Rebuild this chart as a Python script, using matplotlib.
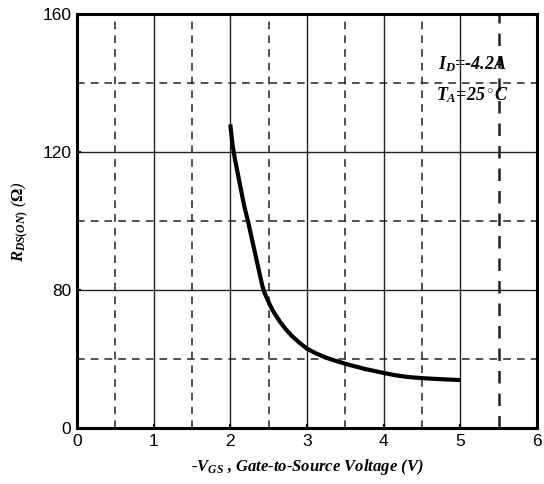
import numpy as np
import matplotlib
matplotlib.use("Agg")
import matplotlib.pyplot as plt


# Curve: -VGS (V) vs RDS(ON) (ohm).
VGS = [2.0, 2.01, 2.03, 2.06, 2.1, 2.14, 2.18, 2.23, 2.28, 2.33, 2.38, 2.42, 2.45, 2.48, 2.51, 2.55,
       2.59, 2.65, 2.72, 2.8, 2.9, 3.0, 3.12, 3.26, 3.4, 3.56, 3.75, 3.99, 4.15, 4.31, 4.5, 4.7, 5.0]
RDS = [128, 126, 122, 118, 113.5, 109, 104.5, 100, 95, 90, 85, 81, 78, 75, 72, 68.5,
       65.5, 61.5, 57.5, 53.5, 49.5, 46, 43.2, 40.6, 38.6, 36.5, 34.3, 32, 30.6, 29.6, 28.9, 28.4, 27.8]

X_TICKS = [0, 1, 2, 3, 4, 5, 6]
Y_TICKS = [0, 80, 120, 160]
X_MINOR = [0.5, 1.5, 2.5, 3.5, 4.5, 5.5]
Y_MINOR = [40, 100, 140]


# The y axis of the original is piecewise: 0-80 takes the same height as 80-120.
def forward(y):
    y = np.asarray(y, dtype=float)
    return np.where(y <= 80, y / 80.0, 1.0 + (y - 80.0) / 40.0)


def inverse(t):
    t = np.asarray(t, dtype=float)
    return np.where(t <= 1, t * 80.0, 80.0 + (t - 1.0) * 40.0)


plt.rcParams["mathtext.fontset"] = "custom"
plt.rcParams["mathtext.it"] = "Liberation Serif:italic:bold"
plt.rcParams["mathtext.rm"] = "Liberation Serif:bold"
plt.rcParams["mathtext.bf"] = "Liberation Serif:italic:bold"

fig = plt.figure(figsize=(5.44, 4.84), dpi=100)
ax = fig.add_axes([0.1415, 0.1157, 0.8455, 0.8553])
ax.set_yscale("function", functions=(forward, inverse))

ax.plot(VGS, RDS, color="black", linewidth=3.0, solid_capstyle="butt",
        solid_joinstyle="round", zorder=3)

ax.set_xlim(0, 6)
ax.set_ylim(0, 160)
ax.set_xticks(X_TICKS)
ax.set_yticks(Y_TICKS)
ax.set_xticks(X_MINOR, minor=True)
ax.set_yticks(Y_MINOR, minor=True)
ax.set_xticklabels([str(v) for v in X_TICKS], fontfamily="Liberation Sans", fontsize=12.5)
ax.set_yticklabels([str(v) for v in Y_TICKS], fontfamily="Liberation Sans", fontsize=12.5)
ax.tick_params(which="major", direction="in", length=3, width=1.5, pad=4)
ax.tick_params(which="minor", length=0)

ax.grid(which="major", color="#222222", linewidth=1.0, linestyle="-")
ax.grid(which="minor", color="#222222", linewidth=1.1, linestyle=(0, (5, 4)))
# the last dashed line is drawn a bit heavier in the original
ax.xaxis.get_minor_ticks()[-1].gridline.set_linewidth(1.8)

for spine in ax.spines.values():
    spine.set_linewidth(2.2)

ax.set_xlabel(r"-$V_{GS}$ , Gate-to-Source Voltage (V)", fontfamily="Liberation Serif",
              fontstyle="italic", fontweight="bold", fontsize=12, labelpad=6)
ax.set_ylabel(r"$R_{DS(ON)}$ ($\Omega$)", fontfamily="Liberation Serif",
              fontstyle="italic", fontsize=12, labelpad=8)

ax.text(0.86, 0.88, r"$I_D$=-4.2A", transform=ax.transAxes, ha="center", va="center",
        fontfamily="Liberation Serif", fontstyle="italic", fontweight="bold", fontsize=13)
ax.text(0.86, 0.805, r"$T_A$=25$^\circ$C", transform=ax.transAxes, ha="center", va="center",
        fontfamily="Liberation Serif", fontstyle="italic", fontweight="bold", fontsize=13)

fig.savefig("out.png", dpi=100)
